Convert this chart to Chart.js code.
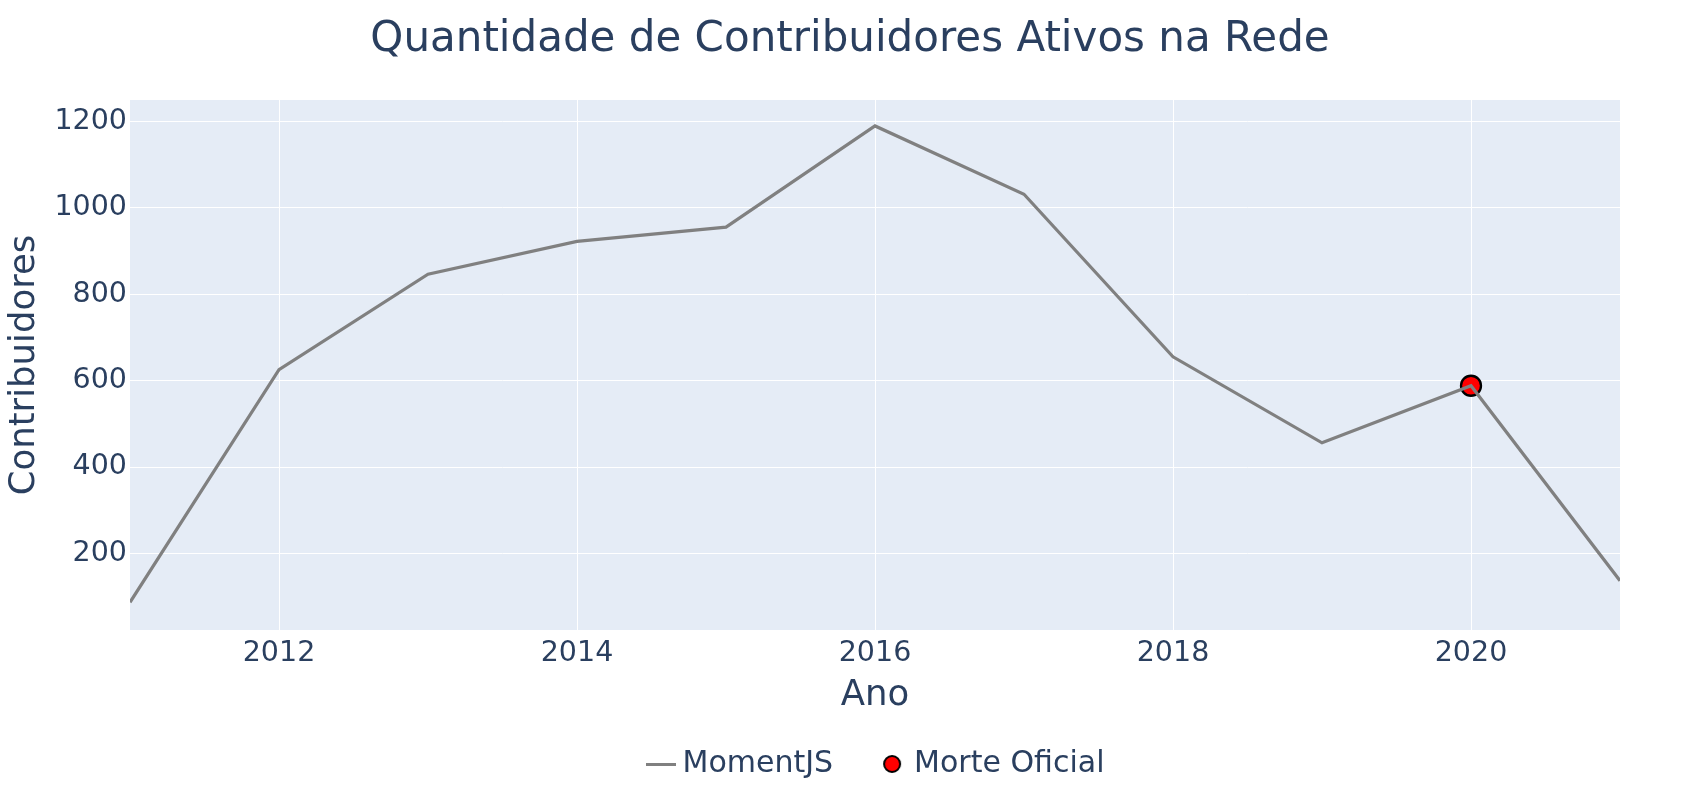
<!DOCTYPE html>
<html>
<head>
<meta charset="utf-8">
<script src="https://cdn.jsdelivr.net/npm/chart.js@4"></script>
<style>
  html, body { margin: 0; padding: 0; background: #ffffff; }
  #wrap { width: 1700px; height: 800px; }
</style>
</head>
<body>
<div id="wrap"><canvas id="c" width="1700" height="800"></canvas></div>
<script>
// ---- data ----
const years = [2011, 2012, 2013, 2014, 2015, 2016, 2017, 2018, 2019, 2020, 2021];
const momentValues = [87, 625, 846, 922, 955, 1189, 1031, 655, 456, 588, 137];
const deathYears = [2020];
const deathValues = [588];
const xTicks = [2012, 2014, 2016, 2018, 2020];
const yTicks = [200, 400, 600, 800, 1000, 1200];
const seriesNames = ['MomentJS', 'Morte Oficial'];
const titleText = 'Quantidade de Contribuidores Ativos na Rede';
const xTitle = 'Ano';
const yTitle = 'Contribuidores';

const FONT = '"DejaVu Sans", Verdana, sans-serif';
const TXT = '#2a3f5f';
Chart.defaults.font.family = FONT;
Chart.defaults.color = TXT;

// legend icons
function lineIcon() {
  const c = document.createElement('canvas');
  c.width = 30; c.height = 3;
  const g = c.getContext('2d');
  g.fillStyle = '#808080';
  g.fillRect(0, 0, 30, 3);
  return c;
}
function dotIcon() {
  const c = document.createElement('canvas');
  c.width = 22; c.height = 22;
  const g = c.getContext('2d');
  g.beginPath();
  g.arc(11, 11, 8, 0, Math.PI * 2);
  g.fillStyle = '#ff0000';
  g.fill();
  g.lineWidth = 2;
  g.strokeStyle = '#000000';
  g.stroke();
  return c;
}
const icons = [lineIcon(), dotIcon()];

const plotBg = {
  id: 'plotBg',
  beforeDraw(chart) {
    const { ctx, chartArea: { left, top, width, height } } = chart;
    ctx.save();
    ctx.fillStyle = '#E5ECF6';
    ctx.fillRect(left, top, width, height);
    ctx.restore();
  }
};

const legendShift = {
  id: 'legendShift',
  afterLayout(chart) {
    if (chart.legend) {
      chart.legend.left += 4;
      chart.legend.right += 4;
    }
  }
};

new Chart(document.getElementById('c'), {
  type: 'line',
  data: {
    datasets: [
      {
        label: seriesNames[0],
        data: years.map((y, i) => ({ x: y, y: momentValues[i] })),
        borderColor: '#808080',
        borderWidth: 3.2,
        pointRadius: 0,
        tension: 0,
        fill: false
      },
      {
        label: seriesNames[1],
        data: deathYears.map((y, i) => ({ x: y, y: deathValues[i] })),
        showLine: false,
        pointRadius: 10,
        pointHoverRadius: 10,
        pointBackgroundColor: '#ff0000',
        pointBorderColor: '#000000',
        pointBorderWidth: 2.3,
        backgroundColor: '#ff0000',
        borderColor: '#000000'
      }
    ]
  },
  options: {
    responsive: false,
    devicePixelRatio: 1,
    animation: false,
    layout: { padding: { top: 0, bottom: 11, left: 0, right: 0 } },
    plugins: {
      title: {
        display: true,
        text: titleText,
        color: TXT,
        font: { size: 42, weight: 'normal', lineHeight: 1.2 },
        padding: { top: 14.5, bottom: 35.1 }
      },
      legend: {
        display: true,
        position: 'bottom',
        fullSize: false,
        labels: {
          usePointStyle: true,
          boxWidth: 14,
          padding: 52,
          color: TXT,
          font: { size: 30 },
          generateLabels: (chart) => chart.data.datasets.map((ds, i) => ({
            text: ds.label,
            pointStyle: icons[i],
            fillStyle: 'rgba(0,0,0,0)',
            strokeStyle: 'rgba(0,0,0,0)',
            lineWidth: 0,
            hidden: false,
            datasetIndex: i,
            fontColor: TXT
          }))
        }
      },
      tooltip: { enabled: false }
    },
    scales: {
      x: {
        type: 'linear',
        position: 'bottom',
        min: 2011,
        max: 2021,
        afterBuildTicks: (s) => { s.ticks = xTicks.map(v => ({ value: v })); },
        afterFit: (s) => { s.height = 67; },
        ticks: {
          color: TXT,
          font: { size: 28.5 },
          padding: 6,
          maxRotation: 0,
          callback: (v) => String(v)
        },
        grid: { color: '#ffffff', lineWidth: 1, drawTicks: false },
        border: { display: false },
        title: {
          display: true,
          text: xTitle,
          color: TXT,
          font: { size: 35.5, lineHeight: 1 },
          padding: { top: 0, bottom: -16.25 }
        }
      },
      y: {
        type: 'linear',
        position: 'left',
        min: 23,
        max: 1249,
        afterBuildTicks: (s) => { s.ticks = yTicks.map(v => ({ value: v })); },
        afterFit: (s) => { s.width = 130; },
        ticks: {
          color: TXT,
          font: { size: 28.5 },
          padding: 3,
          callback: (v) => String(v)
        },
        grid: { color: '#ffffff', lineWidth: 1, drawTicks: false },
        border: { display: false },
        title: {
          display: true,
          text: yTitle,
          color: TXT,
          font: { size: 35.5, lineHeight: 1.2 },
          padding: { top: 3, bottom: 0 }
        }
      },
      yRight: {
        type: 'linear',
        position: 'right',
        display: true,
        afterFit: (s) => { s.width = 80; },
        ticks: { display: false },
        grid: { display: false, drawTicks: false },
        border: { display: false }
      }
    }
  },
  plugins: [plotBg, legendShift]
});
</script>
</body>
</html>
